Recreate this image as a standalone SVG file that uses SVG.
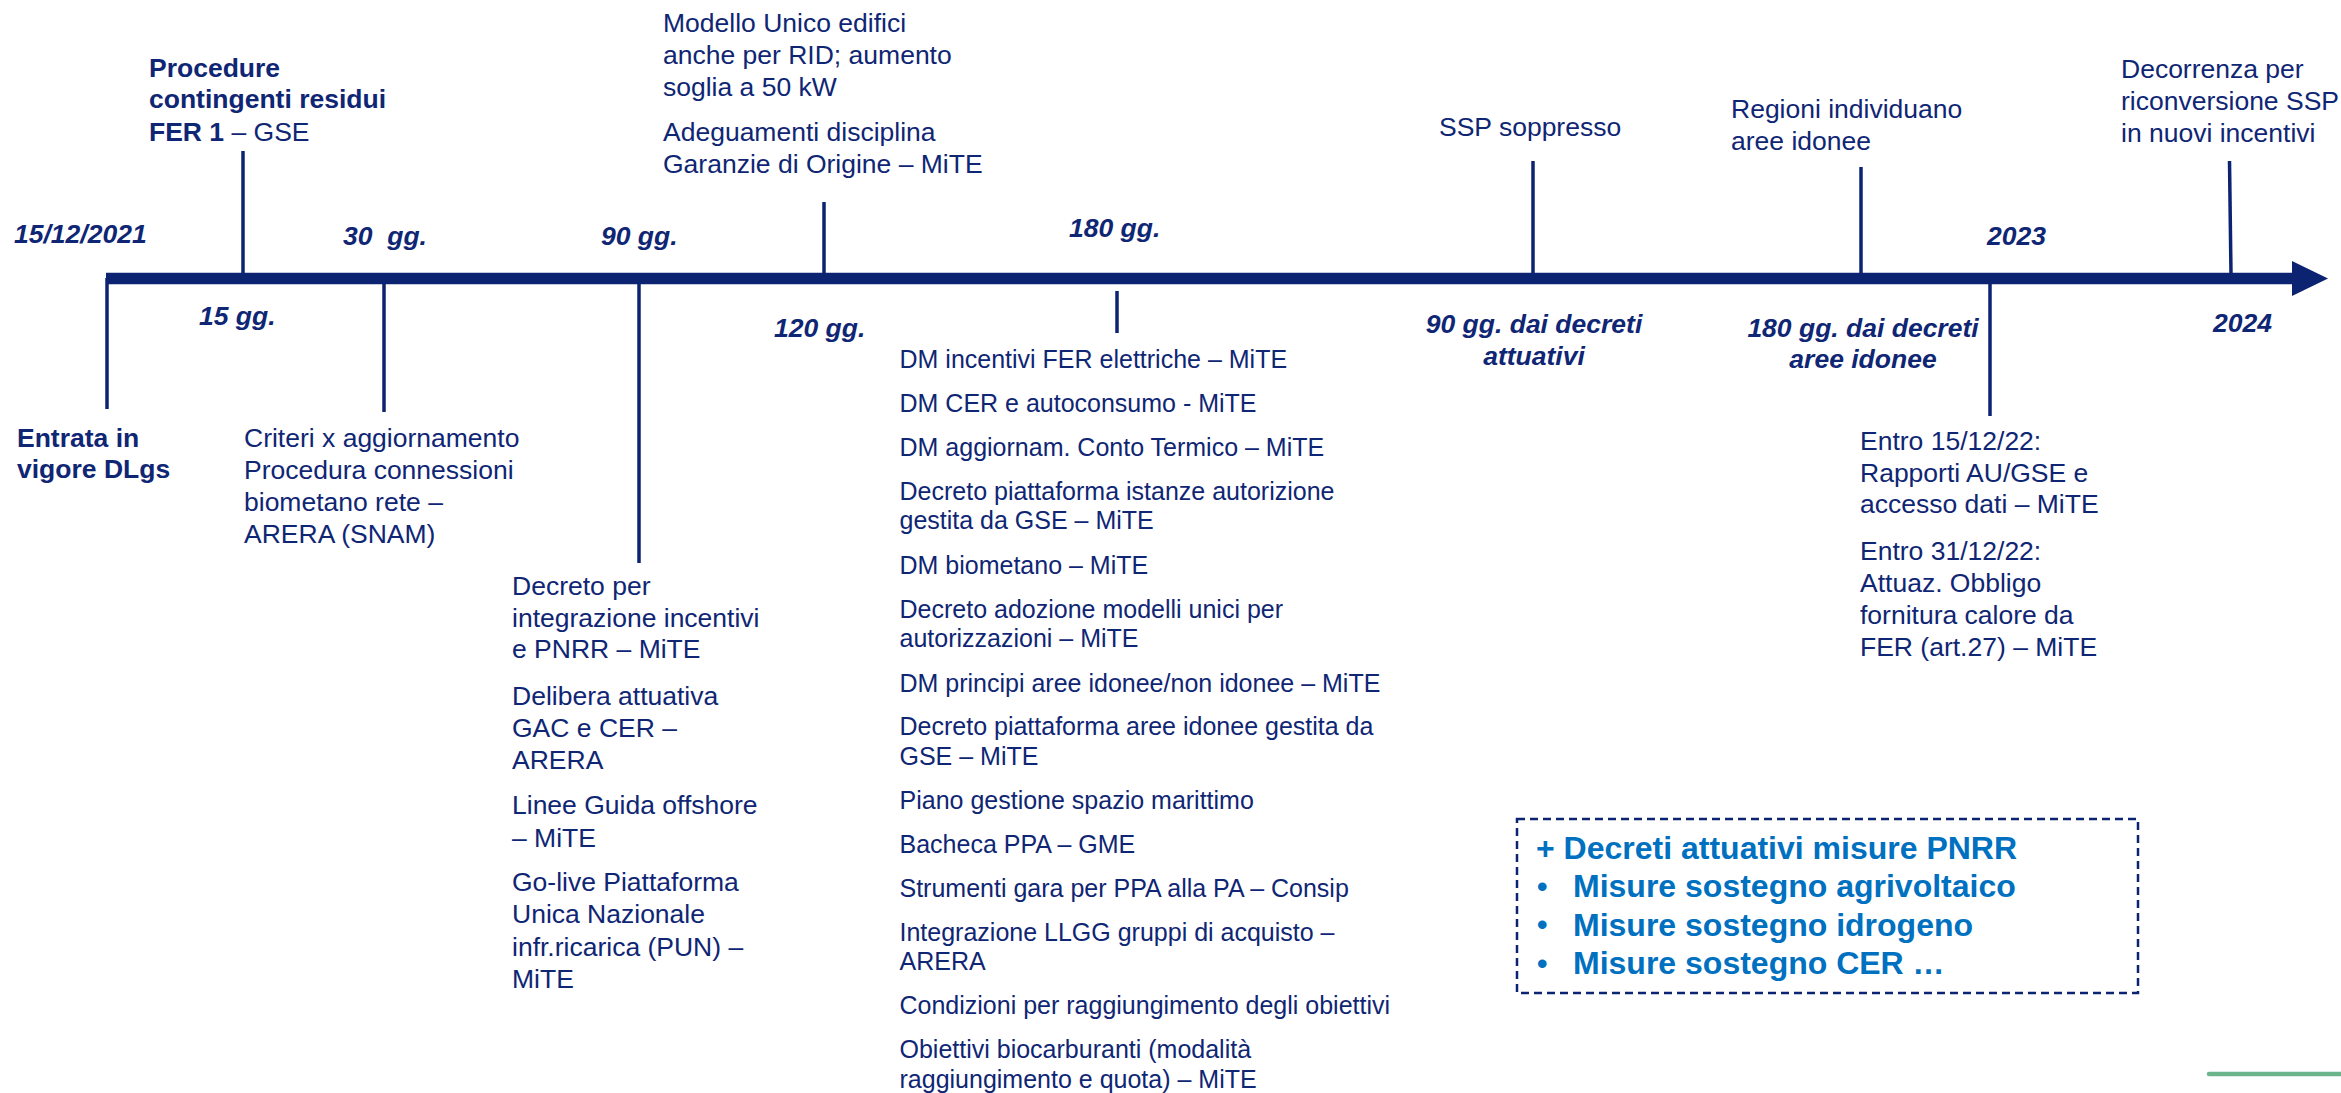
<svg xmlns="http://www.w3.org/2000/svg" width="2341" height="1093" viewBox="0 0 2341 1093">
<style>
  text { font-family: "Liberation Sans", Arial, sans-serif; fill: #0f2674; }
  .r { font-size: 26.5px; }
  .s { font-size: 25px; }
  .b { font-size: 26.5px; font-weight: bold; }
  .bi { font-size: 26.5px; font-weight: bold; font-style: italic; }
  .bl { font-size: 32px; font-weight: bold; fill: #0070c0; }
  .dot { font-size: 30px; font-weight: bold; fill: #0070c0; }
  .mid { text-anchor: middle; }
  .tick { stroke: #0c2372; stroke-width: 3.5; fill: none; }
  .bar { stroke: #0c2372; stroke-width: 11.5; fill: none; }
</style>
<defs>
  <marker id="arrow" markerUnits="userSpaceOnUse" markerWidth="37" markerHeight="36" refX="0" refY="17.5" orient="auto">
    <path d="M0,0 L36,17.5 L0,35 Z" fill="#0c2372"/>
  </marker>
</defs>
<rect width="2341" height="1093" fill="#ffffff"/>

<g id="connectors">
  <line class="bar" x1="106" y1="278.5" x2="2292" y2="278.5" marker-end="url(#arrow)"/>
  <line class="tick" x1="107" y1="278" x2="107" y2="409"/>
  <line class="tick" x1="243" y1="151" x2="243" y2="274"/>
  <line class="tick" x1="384" y1="283" x2="384" y2="412"/>
  <line class="tick" x1="639" y1="283" x2="639" y2="563"/>
  <line class="tick" x1="824" y1="202" x2="824" y2="274"/>
  <line class="tick" x1="1117" y1="291" x2="1117" y2="333"/>
  <line class="tick" x1="1533" y1="161" x2="1533" y2="274"/>
  <line class="tick" x1="1861" y1="167" x2="1861" y2="274"/>
  <line class="tick" x1="1990" y1="283" x2="1990" y2="416"/>
  <line class="tick" x1="2229.5" y1="161" x2="2231" y2="274"/>
</g>

<g id="start-date">
  <text class="bi" x="14" y="243">15/12/2021</text>
</g>

<g id="entrata">
  <text class="b" x="17" y="446.7">Entrata in</text>
  <text class="b" x="17" y="478.3">vigore DLgs</text>
</g>

<g id="procedure-fer1">
  <text class="b" x="149" y="76.7">Procedure</text>
  <text class="b" x="149" y="108.3">contingenti residui</text>
  <text class="b" x="149" y="140.7">FER 1<tspan font-weight="normal"> – GSE</tspan></text>
</g>

<g id="label-15gg"><text class="bi" x="199" y="325">15 gg.</text></g>
<g id="label-30gg"><text class="bi" x="343" y="245" style="white-space:pre">30  gg.</text></g>
<g id="label-90gg"><text class="bi" x="601" y="245">90 gg.</text></g>
<g id="label-120gg"><text class="bi" x="774" y="337">120 gg.</text></g>
<g id="label-180gg"><text class="bi" x="1069" y="237">180 gg.</text></g>

<g id="criteri">
  <text class="r" x="244" y="446.7">Criteri x aggiornamento</text>
  <text class="r" x="244" y="479">Procedura connessioni</text>
  <text class="r" x="244" y="511">biometano rete –</text>
  <text class="r" x="244" y="543.3">ARERA (SNAM)</text>
</g>

<g id="decreti-90gg">
  <text class="r" x="512" y="595">Decreto per</text>
  <text class="r" x="512" y="626.7">integrazione incentivi</text>
  <text class="r" x="512" y="658.3">e PNRR – MiTE</text>
  <text class="r" x="512" y="705">Delibera attuativa</text>
  <text class="r" x="512" y="736.7">GAC e CER –</text>
  <text class="r" x="512" y="769">ARERA</text>
  <text class="r" x="512" y="814">Linee Guida offshore</text>
  <text class="r" x="512" y="846.7">– MiTE</text>
  <text class="r" x="512" y="891">Go-live Piattaforma</text>
  <text class="r" x="512" y="923.3">Unica Nazionale</text>
  <text class="r" x="512" y="955.7">infr.ricarica (PUN) –</text>
  <text class="r" x="512" y="988.3">MiTE</text>
</g>

<g id="modello-unico">
  <text class="r" x="663" y="32.3">Modello Unico edifici</text>
  <text class="r" x="663" y="63.7">anche per RID; aumento</text>
  <text class="r" x="663" y="95.7">soglia a 50 kW</text>
  <text class="r" x="663" y="140.7">Adeguamenti disciplina</text>
  <text class="r" x="663" y="172.7">Garanzie di Origine – MiTE</text>
</g>

<g id="decreti-180gg">
  <text class="s" x="899.5" y="367.7">DM incentivi FER elettriche – MiTE</text>
  <text class="s" x="899.5" y="411.7">DM CER e autoconsumo - MiTE</text>
  <text class="s" x="899.5" y="455.8">DM aggiornam. Conto Termico – MiTE</text>
  <text class="s" x="899.5" y="499.8">Decreto piattaforma istanze autorizione</text>
  <text class="s" x="899.5" y="529.4">gestita da GSE – MiTE</text>
  <text class="s" x="899.5" y="573.6">DM biometano – MiTE</text>
  <text class="s" x="899.5" y="617.6">Decreto adozione modelli unici per</text>
  <text class="s" x="899.5" y="647.4">autorizzazioni – MiTE</text>
  <text class="s" x="899.5" y="691.6">DM principi aree idonee/non idonee – MiTE</text>
  <text class="s" x="899.5" y="735">Decreto piattaforma aree idonee gestita da</text>
  <text class="s" x="899.5" y="765">GSE – MiTE</text>
  <text class="s" x="899.5" y="809.2">Piano gestione spazio marittimo</text>
  <text class="s" x="899.5" y="852.8">Bacheca PPA – GME</text>
  <text class="s" x="899.5" y="896.8">Strumenti gara per PPA alla PA – Consip</text>
  <text class="s" x="899.5" y="940.8">Integrazione LLGG gruppi di acquisto –</text>
  <text class="s" x="899.5" y="970.2">ARERA</text>
  <text class="s" x="899.5" y="1014.4">Condizioni per raggiungimento degli obiettivi</text>
  <text class="s" x="899.5" y="1058.4">Obiettivi biocarburanti (modalità</text>
  <text class="s" x="899.5" y="1088">raggiungimento e quota) – MiTE</text>
</g>

<g id="ssp-soppresso">
  <text class="r" x="1439" y="135.7">SSP soppresso</text>
</g>

<g id="label-90gg-decreti">
  <text class="bi mid" x="1534" y="333.3">90 gg. dai decreti</text>
  <text class="bi mid" x="1534" y="365">attuativi</text>
</g>

<g id="regioni">
  <text class="r" x="1731" y="118.3">Regioni individuano</text>
  <text class="r" x="1731" y="150">aree idonee</text>
</g>

<g id="label-180gg-aree">
  <text class="bi mid" x="1863" y="336.7">180 gg. dai decreti</text>
  <text class="bi mid" x="1863" y="368.3">aree idonee</text>
</g>

<g id="label-2023"><text class="bi" x="1987" y="245">2023</text></g>
<g id="label-2024"><text class="bi" x="2213" y="332.3">2024</text></g>

<g id="entro-2022">
  <text class="r" x="1860" y="450">Entro 15/12/22:</text>
  <text class="r" x="1860" y="481.7">Rapporti AU/GSE e</text>
  <text class="r" x="1860" y="513.3">accesso dati – MiTE</text>
  <text class="r" x="1860" y="560">Entro 31/12/22:</text>
  <text class="r" x="1860" y="591.7">Attuaz. Obbligo</text>
  <text class="r" x="1860" y="624.3">fornitura calore da</text>
  <text class="r" x="1860" y="656">FER (art.27) – MiTE</text>
</g>

<g id="decorrenza">
  <text class="r" x="2121" y="78.3">Decorrenza per</text>
  <text class="r" x="2121" y="110">riconversione SSP</text>
  <text class="r" x="2121" y="141.7">in nuovi incentivi</text>
</g>

<g id="pnrr-box">
  <rect x="1517" y="819" width="621" height="174" fill="none" stroke="#0c2372" stroke-width="2.5" stroke-dasharray="8 5"/>
  <text class="bl" x="1536" y="859">+ Decreti attuativi misure PNRR</text>
  <text class="dot" x="1537" y="896.5">•</text>
  <text class="bl" x="1573" y="897">Misure sostegno agrivoltaico</text>
  <text class="dot" x="1537" y="935">•</text>
  <text class="bl" x="1573" y="935.5">Misure sostegno idrogeno</text>
  <text class="dot" x="1537" y="973.5">•</text>
  <text class="bl" x="1573" y="974">Misure sostegno CER …</text>
</g>

<g id="footer-line">
  <line x1="2209" y1="1074" x2="2341" y2="1074" stroke="#6bb48c" stroke-width="4.5" stroke-linecap="round"/>
</g>
</svg>
